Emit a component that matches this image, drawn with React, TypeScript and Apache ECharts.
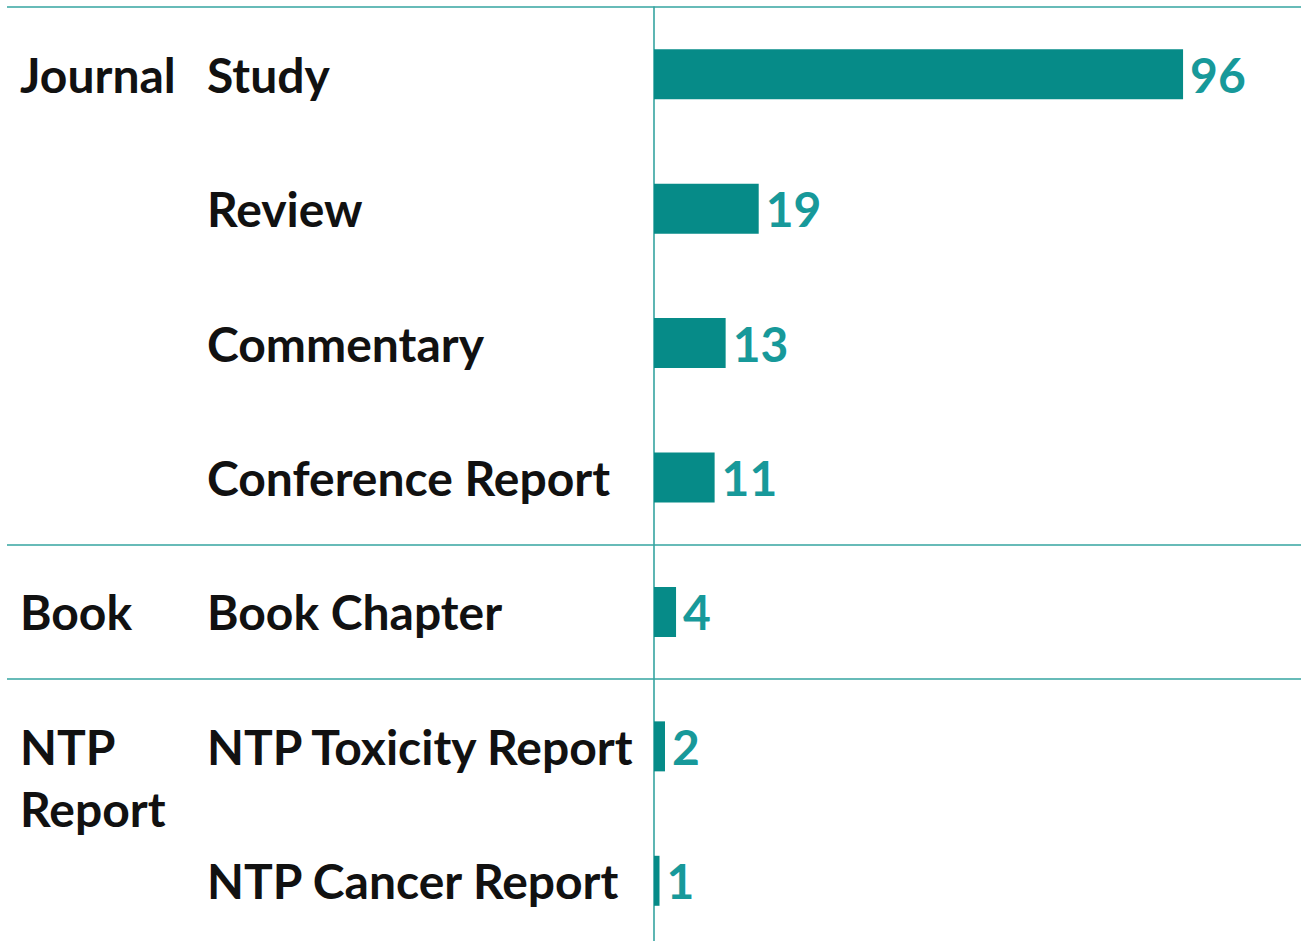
import React, { useEffect, useRef } from "react";
import * as echarts from "echarts";

const categories = [
  "Study",
  "Review",
  "Commentary",
  "Conference Report",
  "Book Chapter",
  "NTP Toxicity Report",
  "NTP Cancer Report",
];
const groupLabels = ["Journal", "", "", "", "Book", "\nNTP\nReport", ""];
const groupBoundaries = [0, 4, 5];
const counts = [96, 19, 13, 11, 4, 2, 1];

const FONT = "Lato, 'Open Sans', sans-serif";
const FONT_SIZE = 48;
const BAR = "#068B88";
const LABEL_TEAL = "#17999A";
const LINE = "#35A4A0";

export default function App() {
  const ref = useRef<HTMLDivElement>(null);
  useEffect(() => {
    if (!ref.current) return;
    const chart = echarts.init(ref.current, undefined, { renderer: "svg" });
    chart.setOption({
      animation: false,
      backgroundColor: "#ffffff",
      grid: {
        left: 7,
        right: 0,
        top: 7,
        height: 941,
        containLabel: false,
        outerBoundsMode: "none",
      },
      xAxis: {
        type: "value",
        min: -117.4,
        max: 117.4,
        show: false,
      },
      yAxis: [
        {
          type: "category",
          data: categories,
          inverse: true,
          axisLine: { show: true, onZero: true, lineStyle: { color: LINE, width: 1.6 } },
          axisTick: { show: false },
          splitLine: {
            show: true,
            interval: (index: number) => groupBoundaries.includes(index),
            lineStyle: { color: LINE, width: 1.6 },
          },
          axisLabel: {
            interval: 0,
            align: "left",
            margin: -200,
            hideOverlap: false,
            fontFamily: FONT,
            fontWeight: "bold",
            fontSize: FONT_SIZE,
            color: "#111111",
          },
        },
        {
          type: "category",
          data: categories,
          inverse: true,
          position: "left",
          axisLine: { show: false, onZero: true },
          axisTick: { show: false },
          splitLine: { show: false },
          axisLabel: {
            interval: 0,
            align: "left",
            margin: -13,
            fontFamily: FONT,
            fontWeight: "bold",
            fontSize: FONT_SIZE,
            lineHeight: 62,
            color: "#111111",
            formatter: (_v: string, i: number) => groupLabels[i],
          },
        },
      ],
      series: [
        {
          type: "bar",
          data: counts,
          barWidth: 50,
          itemStyle: { color: BAR },
          label: {
            show: true,
            position: "right",
            distance: 7,
            fontFamily: FONT,
            fontWeight: "bold",
            fontSize: FONT_SIZE,
            color: LABEL_TEAL,
          },
        },
      ],
    });
    return () => chart.dispose();
  }, []);
  return (
    <div
      ref={ref}
      style={{ position: "absolute", left: 0, top: 0, width: 1301, height: 941 }}
    />
  );
}
